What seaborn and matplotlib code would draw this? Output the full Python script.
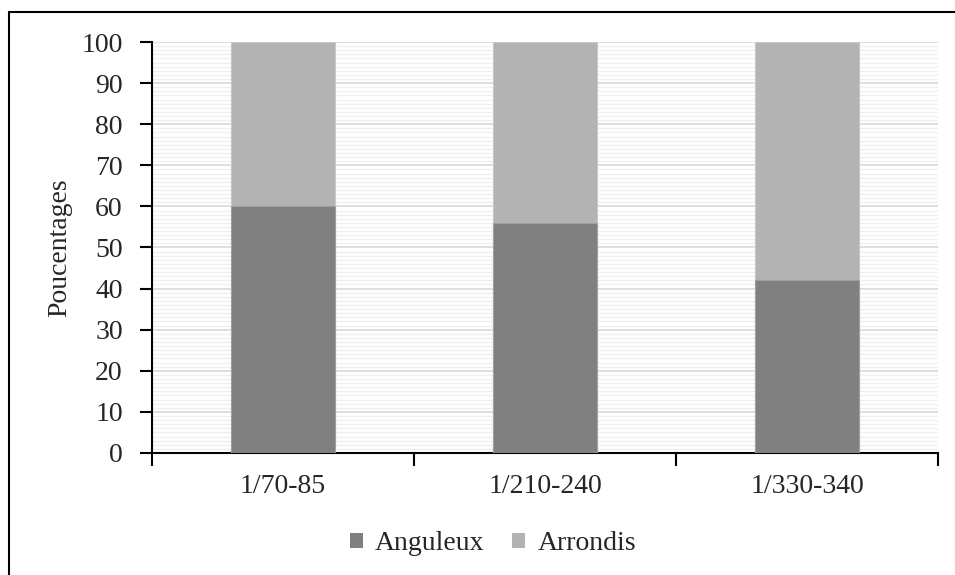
import matplotlib
matplotlib.use("Agg")
import matplotlib.pyplot as plt
import seaborn as sns
import pandas as pd
from matplotlib.lines import Line2D
from matplotlib.patches import Patch
from matplotlib.ticker import MultipleLocator, FixedLocator, NullFormatter

categories = ["1/70-85", "1/210-240", "1/330-340"]
anguleux = [60, 56, 42]
arrondis = [40, 44, 58]
series_names = ["Anguleux", "Arrondis"]
colors = ["#808080", "#b3b3b3"]

sns.set_theme(style="white")
plt.rcParams['font.family'] = ['Liberation Serif', 'DejaVu Serif']

df = pd.DataFrame({"cat": categories, "Anguleux": anguleux, "Arrondis": arrondis})
df["total"] = df["Anguleux"] + df["Arrondis"]

fig = plt.figure(figsize=(9.55, 5.75), dpi=100)
ax = fig.add_axes([152/955, 1-453/575, (938-152)/955, (453-42)/575])

sns.barplot(data=df, x="cat", y="total", color=colors[1], width=0.4, ax=ax,
            edgecolor="#c8c8c8", linewidth=0.8, saturation=1, zorder=3)
sns.barplot(data=df, x="cat", y="Anguleux", color=colors[0], width=0.4, ax=ax,
            edgecolor="#a0a0a0", linewidth=0.8, saturation=1, zorder=3)

ax.set_xlim(-0.5, 2.5)
ax.set_ylim(0, 100)
ax.yaxis.set_major_locator(MultipleLocator(10))
ax.yaxis.set_minor_locator(MultipleLocator(1))
ax.grid(axis="y", which="major", color="#d9d9d9", linewidth=1.2, zorder=0)
ax.grid(axis="y", which="minor", color="#efefef", linewidth=0.9, zorder=0)
ax.set_axisbelow(True)

# x ticks at category boundaries, labels at centers
ax.xaxis.set_major_locator(FixedLocator([-0.5, 0.5, 1.5, 2.5]))
ax.xaxis.set_major_formatter(NullFormatter())
ax.set_xticks([0, 1, 2], minor=True)
ax.set_xticklabels(categories, minor=True)
ax.tick_params(axis="x", which="major", direction="out", length=9, width=1.5, color="black", bottom=True)
ax.tick_params(axis="x", which="minor", length=0, labelsize=20, pad=15, bottom=True)
ax.tick_params(axis="y", which="major", direction="out", length=9, width=1.5, color="black",
               labelsize=20, pad=12, left=True)
ax.tick_params(axis="y", which="minor", length=0)

for s in ["top", "right"]:
    ax.spines[s].set_visible(False)
for s in ["left", "bottom"]:
    ax.spines[s].set_visible(True)
    ax.spines[s].set_color("black")
    ax.spines[s].set_linewidth(1.5)

ax.set_xlabel("")
ax.set_ylabel("Poucentages", fontsize=20, labelpad=7)

handles = [Patch(facecolor=c, edgecolor="none") for c in colors]
fig.legend(handles, series_names, loc="center", bbox_to_anchor=(493/955, 1-544/575), ncol=2,
           frameon=False, fontsize=20, handlelength=0.47, handleheight=0.47,
           handletextpad=0.43, columnspacing=1.0)

# figure border (top and left visible)
fig.add_artist(Line2D([9/955, 1.0], [1-12/575, 1-12/575], color="black", linewidth=1.5,
                      transform=fig.transFigure))
fig.add_artist(Line2D([9/955, 9/955], [0.0, 1-12/575], color="black", linewidth=1.5,
                      transform=fig.transFigure))

fig.savefig("out.png", dpi=100, facecolor="white")
